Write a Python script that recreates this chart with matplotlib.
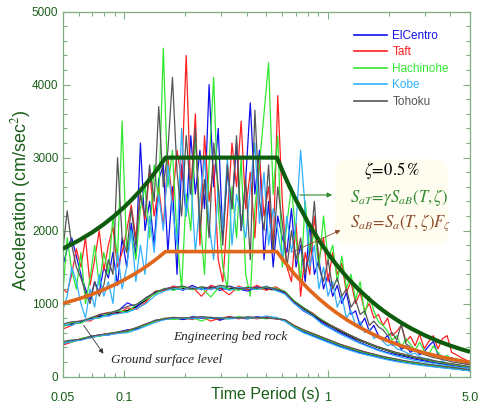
import numpy as np
import matplotlib
matplotlib.use('Agg')
import matplotlib.pyplot as plt
from matplotlib.patches import FancyBboxPatch
from matplotlib.ticker import FixedLocator, FixedFormatter, MultipleLocator

plt.rcParams['font.family'] = ['Liberation Sans', 'DejaVu Sans']
plt.rcParams['mathtext.fontset'] = 'stix'

# acceleration response spectra of the input records (cm/s^2), log spaced periods 0.05-5 s
elcentro = [1500,1750,1900,1650,1400,1200,1050,1300,1150,1500,
            1350,1700,1250,1900,1500,2100,1650,3200,2000,2400,
            1800,2700,2900,1700,2600,1400,2900,2200,3300,2500,
            3100,2300,4000,2600,3400,1900,2800,2300,3200,2000,
            2700,3750,2500,3100,1600,2400,1500,2200,1900,1700,
            2300,1500,1800,1300,2100,1400,1600,1200,1400,1100,
            1250,1000,1150,850,900,700,800,620,700,560,
            500,560,430,480,370,420,330,380,300,340,
            420,480,300,270,240,260,210,220,180,170]
taft = [1200,1150,1400,1750,1500,1900,1250,1600,2000,1450,
        1800,2050,1500,1700,2000,2350,1900,2500,2150,2800,
        2200,2600,2050,3000,2400,3100,2700,4400,2500,3600,
        1800,3300,2400,2900,1600,1300,2200,3200,2600,3500,
        2300,2800,1900,3000,2200,2600,1700,3850,2400,1500,
        1300,2100,1100,1700,1400,2200,1600,1900,1300,1700,
        1400,1550,1150,1300,1000,1150,900,1000,800,850,
        700,800,560,620,700,480,550,420,580,380,
        480,560,380,520,560,330,300,260,230,200]
hachinohe = [1100,1900,1450,1200,1700,1000,1350,1800,1250,1700,
             1400,2200,1600,3500,1700,2000,1600,2300,2600,1900,
             2900,2400,4500,2600,3100,1900,1200,2500,2000,3300,
             2200,1400,2900,4100,2300,1500,1200,2600,1900,3000,
             1400,1100,2300,2900,3600,4300,2500,3300,1500,2100,
             2600,1900,1300,2400,1700,2000,1500,2200,1600,1800,
             1300,1650,1200,1400,1050,1300,850,1100,900,750,
             700,620,500,560,400,520,440,360,470,350,
             300,420,330,260,290,230,250,190,200,170]
kobe = [900,1100,1500,1300,1000,800,1200,950,1400,1100,
        1300,1000,1700,1200,1500,2000,1300,1800,1400,2200,
        1700,2500,2000,2900,2300,1800,3400,2200,2700,1700,
        2400,3000,2100,1600,2600,2000,3000,1800,2500,2200,
        1900,2600,3200,2100,2800,1800,2300,2000,1600,2200,
        1700,2100,3100,2300,1500,1800,1200,1500,1100,1300,
        950,1100,800,900,700,750,600,650,520,560,
        480,420,450,380,360,330,300,320,270,250,
        240,220,200,210,180,170,160,150,140,130]
tohoku = [1700,2270,1800,1500,1350,1150,1000,1300,1100,1250,
          1600,1400,3000,1900,1700,2300,1800,2500,2200,2900,
          2400,3700,2600,3100,4100,2800,2200,3300,2500,3400,
          2000,2700,1900,3200,2600,1800,2900,2300,3300,2000,
          2700,1600,3650,2400,2000,2900,1700,2600,2100,1500,
          2000,1600,1900,1400,1700,2400,1500,1300,1600,1200,
          1350,1100,1200,950,1050,850,900,700,760,680,
          640,560,600,500,720,450,400,360,320,300,
          280,260,250,230,220,200,190,180,170,160]

# spectra at engineering bed rock level
rock_elcentro = [690,730,740,800,840,830,900,1010,950,1080,1140,1200,1230,1180,1250,1190,1230,1180,1240,1200,1170,1230,1210,1200,1140,
                 1010,900,830,740,660,600,540,470,420,370,330,300,270,240,215,190,170,150,130,115]
rock_taft = [650,700,770,760,850,880,860,940,920,1020,1170,1180,1240,1190,1230,1100,1250,1210,1120,1240,1190,1250,1180,1230,1160,
             1030,940,870,770,700,640,570,510,460,410,370,330,300,270,240,215,190,170,150,130]
rock_hachinohe = [680,740,730,810,800,870,900,880,990,1060,1130,1210,1180,1230,1190,1220,1090,1240,1200,1180,1230,1200,1220,1210,1170,
                  1040,950,860,780,700,630,570,510,455,405,365,325,295,265,240,212,188,168,148,128]
rock_kobe = [720,700,760,780,810,840,860,880,930,1000,1110,1170,1210,1190,1220,1200,1190,1230,1180,1220,1210,1190,1240,1180,1130,
             1000,910,830,720,650,580,520,460,410,360,320,280,250,220,200,180,160,140,125,110]
rock_tohoku = [720,750,760,800,850,870,910,960,990,1080,1160,1200,1220,1240,1200,1230,1210,1250,1230,1200,1220,1210,1230,1200,1160,
               1030,940,860,770,700,630,570,510,460,410,370,330,300,270,245,220,195,175,155,135]
rock_mean = [700,720,750,790,820,850,880,900,960,1050,1150,1190,1200,1210,1200,1210,1220,1210,1200,1210,1200,1210,1200,1190,1150,
             1020,930,850,760,690,620,560,500,450,400,360,320,290,260,235,210,185,165,145,125]

# spectra at ground surface level
surf_elcentro = [450,490,500,550,570,570,610,640,650,700,770,780,810,780,820,800,810,770,820,800,790,820,800,810,760,
                 680,610,560,510,460,410,370,330,300,270,240,215,195,175,155,140,125,110,95,80]
surf_taft = [430,470,520,530,570,590,590,630,670,720,750,800,790,810,780,820,760,800,820,790,810,790,820,790,780,
             700,640,590,540,490,440,400,360,325,290,260,235,210,190,170,152,137,122,105,88]
surf_hachinohe = [470,470,520,550,550,590,610,610,670,700,760,800,780,800,810,760,810,800,790,820,800,810,790,810,770,
                  690,630,580,530,480,430,390,350,315,285,255,230,205,185,165,150,135,120,100,82]
surf_kobe = [450,480,500,530,560,570,590,600,640,690,740,780,800,800,790,810,800,810,790,800,810,800,830,810,760,
             670,600,550,500,450,400,360,320,290,260,230,205,185,165,148,132,118,105,92,78]
surf_tohoku = [480,500,510,550,570,590,610,630,670,720,770,790,810,800,810,820,810,800,810,800,820,810,800,790,780,
               700,640,590,540,490,440,400,360,325,295,265,240,215,195,175,158,142,126,110,92]
surf_mean = [460,480,510,540,560,580,600,620,660,710,760,790,800,790,800,810,800,790,800,810,800,800,810,800,770,
             690,630,580,530,480,430,390,350,315,285,255,230,205,185,165,150,135,120,100,82]

# design spectra
design_T = [0.05,0.06,0.07,0.08,0.09,0.1,0.11,0.12,0.13,0.14,0.15,0.16,0.564,
            0.6,0.65,0.7,0.8,0.9,1.0,1.1,1.25,1.4,1.6,1.8,2.0,2.3,2.6,3.0,3.5,4.0,4.5,5.0]
target_sa = [1750,1864,1977,2091,2205,2318,2432,2545,2659,2773,2886,3000,3000,
             2820,2603,2417,2115,1880,1692,1538,1354,1209,1058,940,846,736,651,564,483,423,376,338]
base_sa = [1000,1064,1128,1193,1258,1323,1388,1452,1517,1582,1647,1712,1712,
           1609,1486,1379,1207,1073,966,878,772,690,604,536,483,420,371,322,276,241,215,193]

names = ['ElCentro', 'Taft', 'Hachinohe', 'Kobe', 'Tohoku']
colors = ['#1010ee', '#ff2020', '#30e830', '#30b0ff', '#555555']
records = [elcentro, taft, hachinohe, kobe, tohoku]
rock = [rock_elcentro, rock_taft, rock_hachinohe, rock_kobe, rock_tohoku]
surf = [surf_elcentro, surf_taft, surf_hachinohe, surf_kobe, surf_tohoku]

dkgreen = '#1a5e1a'
spine_c = '#80ad80'

fig = plt.figure(figsize=(4.78, 4.08), dpi=100)
ax = fig.add_axes([62.6/478, 1-376.5/408, (470-62.6)/478, (376.5-11.7)/408])

for vals, c, n in zip(records, colors, names):
    ax.plot(np.geomspace(0.05, 5.0, len(vals)), vals, color=c, lw=0.9, label=n, zorder=2)

for group, mean in ((rock, rock_mean), (surf, surf_mean)):
    ax.plot(np.geomspace(0.05, 5.0, len(mean)), mean, color='black', lw=1.2, zorder=1.8)
    for vals, c in zip(group, colors):
        ax.plot(np.geomspace(0.05, 5.0, len(vals)), vals, color=c, lw=0.85, zorder=2)

ax.plot(design_T, target_sa, color='#0d5c0d', lw=3.0, zorder=3, solid_capstyle='butt')
ax.plot(design_T, base_sa, color='#e0661a', lw=2.6, zorder=3, solid_capstyle='butt')

ax.set_xscale('log')
ax.set_xlim(0.05, 5.0)
ax.set_ylim(0, 5000)
ax.xaxis.set_major_locator(FixedLocator([0.05, 0.1, 1, 5]))
ax.xaxis.set_major_formatter(FixedFormatter(['0.05', '0.1', '1', '5.0']))
ax.xaxis.set_minor_locator(FixedLocator([0.06,0.07,0.08,0.09,0.2,0.3,0.4,0.5,0.6,0.7,0.8,0.9,2,3,4]))
ax.xaxis.set_minor_formatter(FixedFormatter([]))
ax.yaxis.set_major_locator(MultipleLocator(1000))
ax.yaxis.set_minor_locator(MultipleLocator(200))

for s in ax.spines.values():
    s.set_color(spine_c)
    s.set_linewidth(0.9)
ax.tick_params(which='both', direction='in', top=True, right=True, color=spine_c, width=0.8)
ax.tick_params(which='major', length=5)
ax.tick_params(which='minor', length=3)
ax.tick_params(axis='x', which='major', pad=11, labelsize=9, labelcolor=dkgreen)
ax.tick_params(axis='y', which='major', pad=3, labelsize=8.5, labelcolor=dkgreen)

fig.text(265/478, 1-395/408, 'Time Period (s)', ha='center', va='center', fontsize=11.5, color=dkgreen)
fig.text(21/478, 1-200/408, 'Acceleration (cm/sec$^2$)', ha='center', va='center', rotation=90,
         fontsize=13, color=dkgreen)

leg = ax.legend(loc='upper left', bbox_to_anchor=(354/478, 1-30/408), bbox_transform=fig.transFigure,
                frameon=False, fontsize=8.5, labelcolor='linecolor', handlelength=2.8,
                handletextpad=0.45, labelspacing=0.38, borderpad=0, borderaxespad=0)
for line in leg.get_lines():
    line.set_linewidth(1.2)

box = FancyBboxPatch((335/478, 1-245/408), 113/478, 86/408, boxstyle='round,pad=0,rounding_size=0.03',
                     transform=fig.transFigure, facecolor='#fffdf0', edgecolor='none', zorder=1)
ax.add_patch(box)

fig.text(392/478, 1-170/408, r'$\zeta\!=\!0.5\,\%$', ha='center', va='center', fontsize=12, color='black')
fig.text(350/478, 1-197/408, r'$S_{aT}\!=\!\gamma S_{aB}(T,\zeta)$', ha='left', va='center',
         fontsize=12, color='#2f8a2f')
fig.text(350/478, 1-223/408, r'$S_{aB}\!=\!S_{a}(T,\zeta)F_{\zeta}$', ha='left', va='center',
         fontsize=12, color='#8b4a2b')

serif = ['Liberation Serif', 'DejaVu Serif']
fig.text(230/478, 1-337/408, 'Engineering bed rock', ha='center', va='center', fontsize=9.5,
         style='italic', family=serif, color='#222222', zorder=5)
fig.text(167/478, 1-360/408, 'Ground surface level', ha='center', va='center', fontsize=9.5,
         style='italic', family=serif, color='#222222', zorder=5)

def px(x, y):
    return (x/478, 1-y/408)

ax.annotate('', xy=px(335, 195), xytext=px(297, 195), xycoords='figure fraction', textcoords='figure fraction',
            arrowprops=dict(arrowstyle='-|>', color='#2f8a2f', lw=0.8, mutation_scale=7), zorder=5)
ax.annotate('', xy=px(343, 229), xytext=px(290, 253), xycoords='figure fraction', textcoords='figure fraction',
            arrowprops=dict(arrowstyle='-|>', color='#8b4a2b', lw=0.6, mutation_scale=7), zorder=5)
ax.annotate('', xy=px(105, 356), xytext=px(82, 323), xycoords='figure fraction', textcoords='figure fraction',
            arrowprops=dict(arrowstyle='-|>', color='#333333', lw=0.6, mutation_scale=7), zorder=5)

fig.savefig('out.png', dpi=100)
